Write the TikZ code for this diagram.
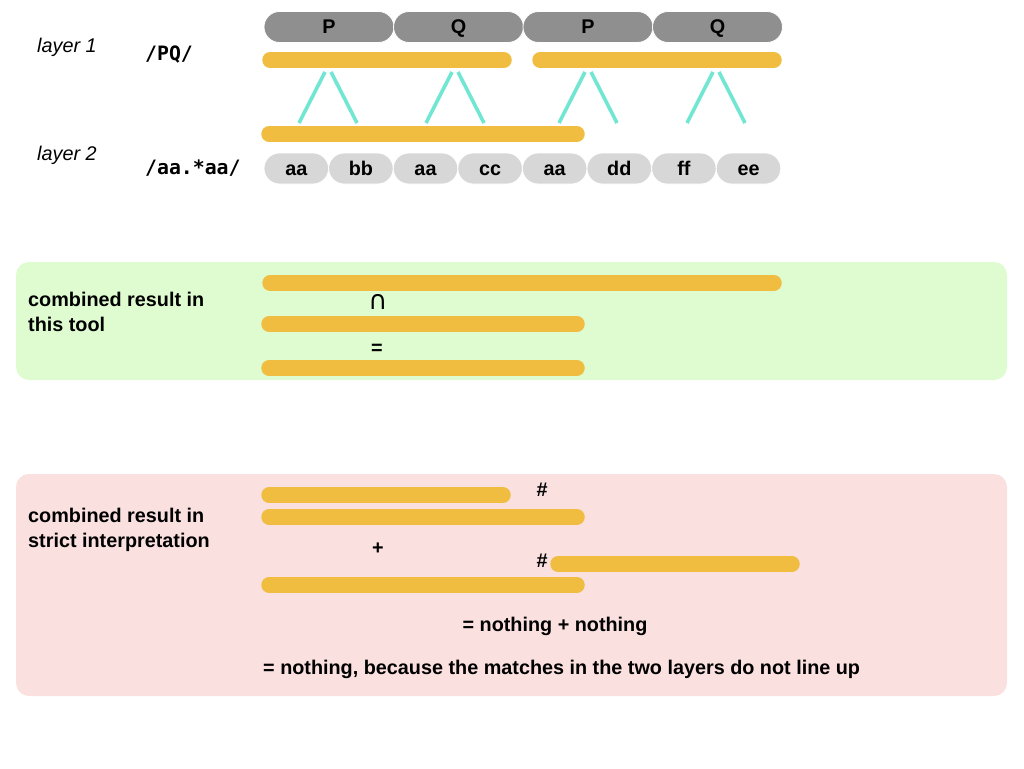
\documentclass[tikz,border=0pt]{standalone}
\usepackage{fontspec}
\setmainfont{Liberation Sans}
\setmonofont{DejaVu Sans Mono}
\newfontfamily\symbfont{DejaVu Sans}
\usetikzlibrary{shapes.misc}

\definecolor{pilldark}{HTML}{8F8F8F}
\definecolor{pilllight}{HTML}{D7D7D7}
\definecolor{matchorange}{HTML}{F0BD41}
\definecolor{chalkteal}{HTML}{70E6D3}
\definecolor{panelgreen}{HTML}{DFFCD0}
\definecolor{panelpink}{HTML}{FAE1E0}

\tikzset{
  pill/.style={rounded rectangle, draw=white, line width=0.8pt,
    minimum height=31pt, inner sep=0pt, text height=13.5pt, text depth=0pt},
  patpill/.style={pill, fill=pilldark, minimum width=130pt, font=\bfseries},
  tokpill/.style={pill, fill=pilllight, minimum width=64.6pt, font=\bfseries},
  matchbar/.style={draw=matchorange, line width=15.5pt, line cap=round},
  chalk/.style={draw=chalkteal, line width=3.6pt},
  panel/.style={rounded corners=13pt},
  lbl/.style={anchor=west, inner sep=0pt, align=left},
}

\begin{document}
\fontsize{19.8}{25}\selectfont
\begin{tikzpicture}[x=1pt, y=-1pt]
  \useasboundingbox (0,0) rectangle (1024,768);

  % panels
  \fill[panelgreen, panel] (16,262) rectangle (1007,380);
  \fill[panelpink, panel] (16,474) rectangle (1007,696);

  % layer labels and patterns
  \node[lbl, font=\itshape] (layer1) at (37,47) {layer 1};
  \node[lbl, font=\itshape] (layer2) at (37,155) {layer 2};
  \node[lbl, font=\ttfamily\bfseries] (pat1) at (145,55) {/PQ/};
  \node[lbl, font=\ttfamily\bfseries] (pat2) at (145,168) {/aa.*aa/};

  % layer 1 tokens
  \foreach \t [count=\i from 0] in {P,Q,P,Q}
    \node[patpill] (top\i) at (329+129.5*\i,27) {\t};

  % layer 2 tokens
  \foreach \t [count=\i from 0] in {aa,bb,aa,cc,aa,dd,ff,ee}
    \node[tokpill] (tok\i) at (296.3+64.6*\i,168.5) {\t};

  % matches
  \draw[matchbar] (270,60) -- (504,60);
  \draw[matchbar] (540,60) -- (774,60);
  \draw[matchbar] (269,134) -- (577,134);

  % P Q joins
  \foreach \x in {328,455,588,716} {
    \draw[chalk] (\x-3,72) -- (\x-29,123);
    \draw[chalk] (\x+3,72) -- (\x+29,123);
  }

  % combined result in this tool
  \node[lbl, font=\bfseries] (tool) at (28,311.5) {combined result in\\this tool};
  \draw[matchbar] (270,283) -- (774,283);
  \node[font=\symbfont\fontsize{26}{26}\selectfont] (cap) at (378,302) {∩};
  \draw[matchbar] (269,324) -- (577,324);
  \node[font=\bfseries] (eq) at (377,349) {=};
  \draw[matchbar] (269,368) -- (577,368);

  % combined result in strict interpretation
  \node[lbl, font=\bfseries] (strict) at (28,529.5) {combined result in\\strict interpretation};
  \draw[matchbar] (269,495) -- (503,495);
  \node[font=\bfseries] (hash1) at (542,490) {\#};
  \draw[matchbar] (269,517) -- (577,517);
  \node[font=\bfseries] (plus) at (378,549) {+};
  \node[font=\bfseries] (hash2) at (542,561) {\#};
  \draw[matchbar] (558,564) -- (792,564);
  \draw[matchbar] (269,585) -- (577,585);

  \node[font=\bfseries] (sum) at (555,626) {= nothing + nothing};
  \node[lbl, font=\bfseries] (verdict) at (263,669)
    {= nothing, because the matches in the two layers do not line up};
\end{tikzpicture}
\end{document}
